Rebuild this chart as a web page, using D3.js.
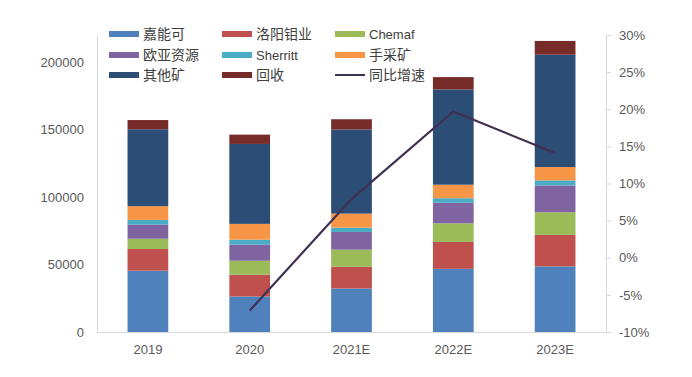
<!DOCTYPE html>
<html><head><meta charset="utf-8">
<script src="https://cdn.jsdelivr.net/npm/d3@7"></script>
<style>
body{margin:0;background:#fff;}
svg{display:block;}
text{font-family:"Liberation Sans","DejaVu Sans",sans-serif;}
.cjk{font-family:"Noto Sans CJK SC","Liberation Sans",sans-serif;}
</style></head>
<body>
<svg id="c" width="692" height="377"></svg>
<script>
const categories = ["2019","2020","2021E","2022E","2023E"];
const seriesNames = ["嘉能可","洛阳钼业","Chemaf","欧亚资源","Sherritt","手采矿","其他矿","回收"];
const glencore = [45400, 26300, 32200, 46800, 48600];
const cmoc     = [16100, 16100, 16100, 19900, 23300];
const chemaf   = [7600, 10400, 12700, 13800, 16800];
const erg      = [10500, 11900, 13100, 15200, 19800];
const sherritt = [3400, 3700, 3200, 3400, 3800];
const artisanal= [10200, 11700, 10400, 10000, 9900];
const otherMine= [57000, 59200, 62300, 70600, 83200];
const recycle  = [6800, 6900, 7600, 9100, 10200];
const growth   = [null, -7.1, 7.9, 19.7, 14.1];
const lineName = "同比增速";
const leftTicks = [0,50000,100000,150000,200000];
const rightTicks = [-10,-5,0,5,10,15,20,25,30];
const colors = ["#4F81BD","#C0504D","#9BBB59","#8064A2","#4BACC6","#F79646","#2C4D75","#772C2A"];
const lineColor = "#403152";

const seriesVals = [glencore,cmoc,chemaf,erg,sherritt,artisanal,otherMine,recycle];
const rows = categories.map((c,i)=>{const r={cat:c}; seriesNames.forEach((n,k)=>r[n]=seriesVals[k][i]); return r;});
const stacked = d3.stack().keys(seriesNames)(rows);

const svg = d3.select("#c");
const L=97, R=606, T=35, B=332;
const x = d3.scaleBand().domain(categories).range([L,R]).paddingInner(0.6).paddingOuter(0.3);
const y = d3.scaleLinear().domain([0,220000]).range([B,T]);
const y2 = d3.scaleLinear().domain([-10,30]).range([B,T]);

// bars
svg.append("g").selectAll("g").data(stacked).join("g")
  .attr("fill",(d,i)=>colors[i])
  .selectAll("rect").data(d=>d).join("rect")
  .attr("x",d=>x(d.data.cat)).attr("width",x.bandwidth())
  .attr("y",d=>y(d[1])).attr("height",d=>y(d[0])-y(d[1]));

// axes
const axisColor="#D9D9D9", textColor="#595959";
const gl = svg.append("g").attr("transform",`translate(${L},0)`)
  .call(d3.axisLeft(y).tickValues(leftTicks).tickSize(0).tickPadding(13).tickFormat(d3.format("d")));
gl.select(".domain").attr("stroke",axisColor);
gl.selectAll("text").attr("fill",textColor).attr("font-size",13);

const gr = svg.append("g").attr("transform",`translate(${R},0)`)
  .call(d3.axisRight(y2).tickValues(rightTicks).tickSize(5).tickPadding(8).tickFormat(d=>d+"%"));
gr.select(".domain").attr("stroke",axisColor);
gr.selectAll("line").attr("stroke",axisColor);
gr.selectAll("text").attr("fill",textColor).attr("font-size",13);

const gb = svg.append("g").attr("transform",`translate(0,${B})`)
  .call(d3.axisBottom(x).tickSize(0).tickPadding(13));
gb.select(".domain").attr("stroke",axisColor);
gb.selectAll("text").attr("fill",textColor).attr("font-size",13);

// line
const pts = categories.map((c,i)=>({c,v:growth[i]})).filter(d=>d.v!==null);
svg.append("path").datum(pts)
  .attr("fill","none").attr("stroke",lineColor).attr("stroke-width",2.2)
  .attr("d",d3.line().x(d=>x(d.c)+x.bandwidth()/2).y(d=>y2(d.v)));

// legend
const legendItems = seriesNames.map((n,i)=>({n,c:colors[i],type:"rect"})).concat([{n:lineName,c:lineColor,type:"line"}]);
const colX=[109,222,335], rowY=[34,55,75];
const lg = svg.append("g");
legendItems.forEach((d,i)=>{
  const cx = colX[i%3], cy=rowY[Math.floor(i/3)];
  if(d.type==="rect"){
    lg.append("rect").attr("x",cx).attr("y",cy-3).attr("width",30).attr("height",6).attr("fill",d.c);
  } else {
    lg.append("line").attr("x1",cx).attr("x2",cx+30).attr("y1",cy).attr("y2",cy).attr("stroke",d.c).attr("stroke-width",2);
  }
  const cjk = /[^\x00-\x7f]/.test(d.n);
  lg.append("text").attr("x",cx+34).attr("y",cy).attr("dy","0.35em")
    .attr("class",cjk?"cjk":null).attr("font-size",cjk?14:13).attr("fill","#404040").text(d.n);
});
</script>
</body></html>
